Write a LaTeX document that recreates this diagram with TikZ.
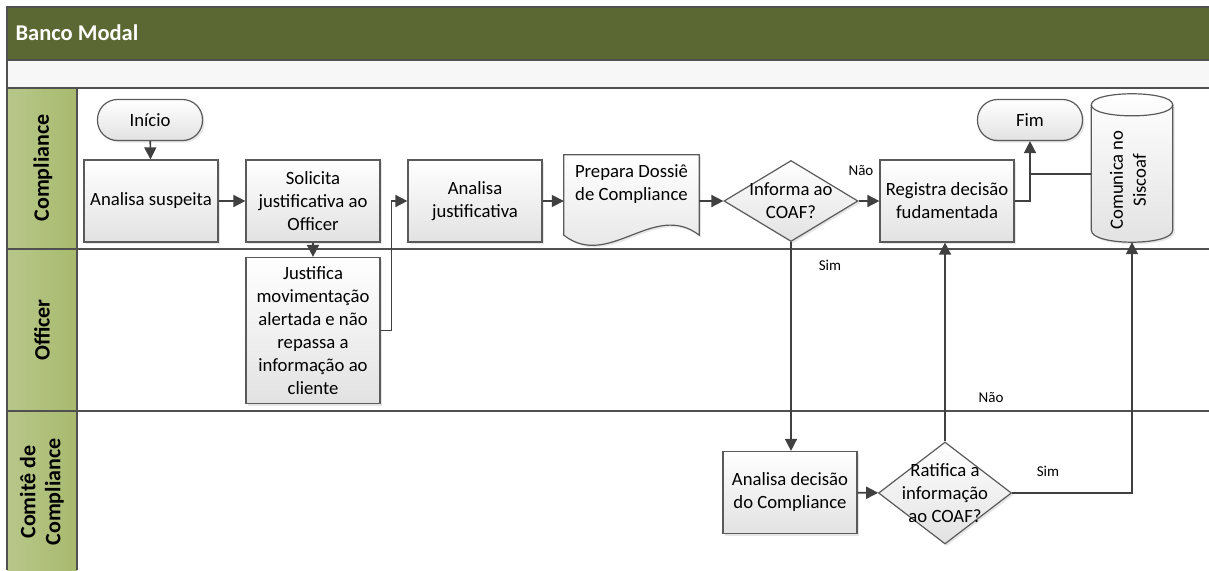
\documentclass[tikz,border=0pt]{standalone}
\usepackage{fontspec}
\setmainfont{Carlito}
\usetikzlibrary{arrows.meta,shapes.geometric,shadows,backgrounds}

\definecolor{poolgreen}{RGB}{91,104,52}
\definecolor{lanegreen}{RGB}{168,186,110}
\definecolor{lanegreenlight}{RGB}{184,199,138}
\definecolor{bandgray}{RGB}{247,247,247}
\definecolor{framegray}{RGB}{80,80,80}
\definecolor{arrowgray}{RGB}{64,64,64}
\definecolor{boxborder}{RGB}{90,90,90}
\definecolor{boxbottom}{RGB}{226,226,226}

\newcommand{\flowfont}{\fontsize{18.7}{23}\selectfont}

\tikzset{
  shapefill/.style={draw=boxborder, line width=1.2pt, top color=white, bottom color=boxbottom,
    drop shadow={shadow xshift=2pt, shadow yshift=-2pt, opacity=0.2}},
  box/.style={shapefill, minimum width=134pt, minimum height=82pt, align=center,
    inner sep=2pt, font=\flowfont},
  terminal/.style={box, rounded corners=20pt, minimum width=105pt, minimum height=41pt},
  decision/.style={diamond, shapefill, inner sep=0pt},
  flow/.style={draw=arrowgray, line width=1.6pt, -{Triangle[length=12pt,width=12pt]}},
  link/.style={draw=arrowgray, line width=1.6pt},
  lanetitle/.style={font=\fontsize{22}{25}\selectfont\bfseries, rotate=90, align=center},
  edgelabel/.style={font=\fontsize{15}{18}\selectfont},
}

\begin{document}
\begin{tikzpicture}[x=1pt, y=-1pt]

    % Fix the page to the size of the reference
    \useasboundingbox (0,0) rectangle (1209,570);

    % Define the lane boundaries
    \coordinate (pooltop) at (7,7);
    \coordinate (bandtop) at (7,60);
    \coordinate (lanetop) at (7,88);
    \coordinate (lanesplitA) at (7,249);
    \coordinate (lanesplitB) at (7,411);

    % Draw the pool header, the empty band and the lane header column
    \fill[poolgreen] (pooltop) rectangle (1209,60);
    \fill[bandgray] (bandtop) rectangle (1209,88);
    \shade[left color=lanegreenlight, right color=lanegreen] (lanetop) rectangle (77,570);
    \node[anchor=west, text=white, font=\fontsize{22.5}{26}\selectfont\bfseries] (pool) at (12,33) {Banco Modal};

    % Draw the frame and the lane separators
    \draw[framegray, line width=1.5pt] (1209,7) -- (pooltop) -- (7,570);
    \draw[framegray, line width=1.5pt] (bandtop) -- (1209,60);
    \draw[framegray, line width=1.5pt] (lanetop) -- (1209,88);
    \draw[framegray, line width=1.5pt] (lanesplitA) -- (1209,249);
    \draw[framegray, line width=1.5pt] (lanesplitB) -- (1209,411);
    \draw[framegray, line width=1.5pt] (77,88) -- (77,570);

    % Lane titles
    \node[lanetitle] (lanecompliance) at (43,168) {Compliance};
    \node[lanetitle] (laneofficer) at (42,330) {Officer};
    \node[lanetitle] (lanecomite) at (42,492) {Comitê de\\Compliance};

    % Compliance lane
    \node[terminal] (inicio) at (150,120) {Início};
    \node[box] (suspeita) at (151,201) {Analisa suspeita};
    \node[box] (solicita) at (313,201) {Solicita\\justificativa ao\\Officer};
    \node[box] (analisajust) at (475,201) {Analisa\\justificativa};

    % Document shape, its wavy outline is drawn behind the text
    \node[minimum width=135pt, minimum height=92pt, inner sep=0pt,
      label={[font=\flowfont, align=center, yshift=17pt]center:Prepara Dossiê\\de Compliance}] (dossie) at (631.5,201) {};
    \begin{scope}[on background layer]
      \draw[shapefill] (dossie.north west) -- (dossie.north east) -- ([yshift=12pt]dossie.south east)
        .. controls ([xshift=-45pt, yshift=47pt]dossie.south east) and ([xshift=45pt, yshift=-23pt]dossie.south west)
        .. ([yshift=12pt]dossie.south west) -- cycle;
    \end{scope}

    \node[decision, minimum width=134pt, minimum height=81pt,
      label={[font=\flowfont, align=center]center:Informa ao\\COAF?}] (informa) at (791,201) {};
    \node[box] (registra) at (947,201) {Registra decisão\\fudamentada};
    \node[terminal] (fim) at (1030,120) {Fim};

    % Cylinder for the Siscoaf
    \node[minimum width=81pt, minimum height=148pt, inner sep=0pt,
      label={[font=\flowfont, align=center, xshift=-4pt, yshift=-12pt, rotate=90]center:Comunica no\\Siscoaf}] (siscoaf) at (1132,168) {};
    \begin{scope}[on background layer]
      \draw[shapefill] ([yshift=-11pt]siscoaf.north west)
        .. controls ([yshift=3.7pt]siscoaf.north west) and ([yshift=3.7pt]siscoaf.north east) .. ([yshift=-11pt]siscoaf.north east)
        -- ([yshift=12pt]siscoaf.south east)
        .. controls ([yshift=-4pt]siscoaf.south east) and ([yshift=-4pt]siscoaf.south west) .. ([yshift=12pt]siscoaf.south west)
        -- cycle;
      \draw[boxborder, line width=1.2pt] ([yshift=-11pt]siscoaf.north west)
        .. controls ([yshift=-25.7pt]siscoaf.north west) and ([yshift=-25.7pt]siscoaf.north east) .. ([yshift=-11pt]siscoaf.north east);
    \end{scope}

    % Officer lane
    \node[box, minimum height=146pt] (justifica) at (313,330.5) {Justifica\\movimentação\\alertada e não\\repassa a\\informação ao\\cliente};

    % Comite lane
    \node[box] (analisadec) at (790,492.5) {Analisa decisão\\do Compliance};
    \node[decision, minimum width=133pt, minimum height=102pt,
      label={[font=\flowfont, align=center]center:Ratifica a\\informação\\ao COAF?}] (ratifica) at (945,493) {};

    % Draw the connectors
    \draw[flow] (inicio) -- (suspeita);
    \draw[flow] (suspeita) -- (solicita);
    \draw[flow] (solicita) -- (justifica);
    \draw[flow] (justifica.east) -- ++(11,0) |- (analisajust.west);
    \draw[flow] (analisajust) -- (dossie);
    \draw[flow] (dossie) -- (informa);
    \draw[flow] (informa) -- (registra);
    \draw[flow] (informa.south) -- (informa.south |- analisadec.north);
    \draw[flow] (registra.east) -| (fim.south);
    \draw[link] ([yshift=-6pt]siscoaf.west) -- ([yshift=-6pt]siscoaf.west -| fim.south);
    \draw[flow] (analisadec) -- (ratifica);
    \draw[flow] (ratifica.north) -- (ratifica.north |- registra.south);
    \draw[flow] (ratifica.east) -| (siscoaf.south);

    % Connector labels
    \node[edgelabel] (naoinforma) at (861,171) {Não};
    \node[edgelabel] (siminforma) at (830,265) {Sim};
    \node[edgelabel] (naoratifica) at (991,398) {Não};
    \node[edgelabel] (simratifica) at (1048,471) {Sim};

\end{tikzpicture}
\end{document}
